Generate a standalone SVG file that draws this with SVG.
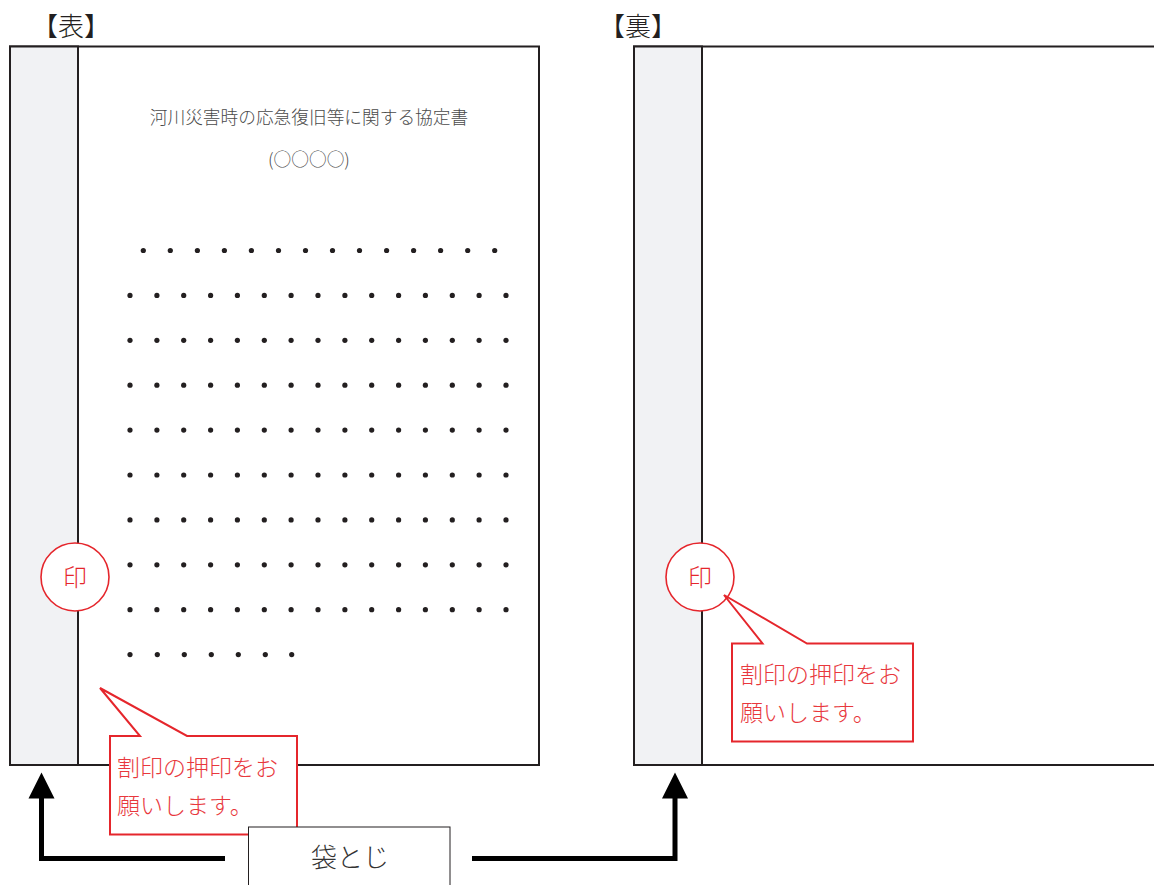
<svg xmlns="http://www.w3.org/2000/svg" width="1154" height="885" viewBox="0 0 1154 885">
<defs>
<style>
.page{fill:#fff;stroke:#231f20;stroke-width:2}
.strip{fill:#f1f2f4;stroke:#231f20;stroke-width:2}
.seal{fill:#fff;stroke:#e5262c;stroke-width:1.6}
.sealt{font-family:"Noto Sans CJK JP","Noto Sans",sans-serif;font-size:24px;fill:#e5262c;text-anchor:middle;font-weight:300}
.call{fill:#fff;stroke:#e5262c;stroke-width:2;stroke-linejoin:miter}
.callt{font-family:"Noto Sans CJK JP","Noto Sans",sans-serif;font-size:23px;fill:#e8383d;font-weight:300}
.head{font-family:"Noto Sans CJK JP","Noto Sans",sans-serif;font-size:26px;fill:#231f20;text-anchor:middle;font-weight:300}
.title{font-family:"Noto Sans CJK JP","Noto Sans",sans-serif;font-size:17.7px;fill:#4a4a4a;text-anchor:middle;font-weight:300}
.dot{fill:#231f20}
.arrow{fill:none;stroke:#000;stroke-width:5}
.ahead{fill:#000}
.label{fill:#fff;stroke:#231f20;stroke-width:1}
.labelt{font-family:"Noto Sans CJK JP","Noto Sans",sans-serif;font-size:26px;fill:#333;text-anchor:middle;font-weight:300}
</style>
<g id="dotrow15">
<circle class="dot" cx="130" cy="0" r="2.6"/><circle class="dot" cx="156.9" cy="0" r="2.6"/><circle class="dot" cx="183.7" cy="0" r="2.6"/><circle class="dot" cx="210.6" cy="0" r="2.6"/><circle class="dot" cx="237.4" cy="0" r="2.6"/><circle class="dot" cx="264.3" cy="0" r="2.6"/><circle class="dot" cx="291.1" cy="0" r="2.6"/><circle class="dot" cx="318" cy="0" r="2.6"/><circle class="dot" cx="344.9" cy="0" r="2.6"/><circle class="dot" cx="371.7" cy="0" r="2.6"/><circle class="dot" cx="398.6" cy="0" r="2.6"/><circle class="dot" cx="425.4" cy="0" r="2.6"/><circle class="dot" cx="452.3" cy="0" r="2.6"/><circle class="dot" cx="479.1" cy="0" r="2.6"/><circle class="dot" cx="506" cy="0" r="2.6"/>
</g>
</defs>
<rect width="1154" height="885" fill="#fff"/>

<g id="front-page">
<text class="head" x="71" y="36">【表】</text>
<rect class="page" x="10" y="46.5" width="529" height="718.5"/>
<rect class="strip" x="10" y="46.5" width="68" height="718.5"/>
<text class="title" x="309" y="124">河川災害時の応急復旧等に関する協定書</text>
<text class="title" x="309" y="166">(○○○○)</text>
</g>

<g id="front-text-dots">
<circle class="dot" cx="143.3" cy="250.5" r="2.6"/><circle class="dot" cx="170.3" cy="250.5" r="2.6"/><circle class="dot" cx="197.4" cy="250.5" r="2.6"/><circle class="dot" cx="224.4" cy="250.5" r="2.6"/><circle class="dot" cx="251.4" cy="250.5" r="2.6"/><circle class="dot" cx="278.5" cy="250.5" r="2.6"/><circle class="dot" cx="305.5" cy="250.5" r="2.6"/><circle class="dot" cx="332.5" cy="250.5" r="2.6"/><circle class="dot" cx="359.5" cy="250.5" r="2.6"/><circle class="dot" cx="386.6" cy="250.5" r="2.6"/><circle class="dot" cx="413.6" cy="250.5" r="2.6"/><circle class="dot" cx="440.6" cy="250.5" r="2.6"/><circle class="dot" cx="467.7" cy="250.5" r="2.6"/><circle class="dot" cx="494.7" cy="250.5" r="2.6"/>
<use href="#dotrow15" y="295.4"/>
<use href="#dotrow15" y="340.3"/>
<use href="#dotrow15" y="385.2"/>
<use href="#dotrow15" y="430.1"/>
<use href="#dotrow15" y="475"/>
<use href="#dotrow15" y="519.9"/>
<use href="#dotrow15" y="564.8"/>
<use href="#dotrow15" y="609.7"/>
<circle class="dot" cx="130" cy="654.6" r="2.6"/><circle class="dot" cx="157.3" cy="654.6" r="2.6"/><circle class="dot" cx="184.3" cy="654.6" r="2.6"/><circle class="dot" cx="211.3" cy="654.6" r="2.6"/><circle class="dot" cx="238.3" cy="654.6" r="2.6"/><circle class="dot" cx="265.3" cy="654.6" r="2.6"/><circle class="dot" cx="291.7" cy="654.6" r="2.6"/>
</g>

<g id="front-seal">
<circle class="seal" cx="75" cy="577" r="34"/>
<text class="sealt" x="75" y="586">印</text>
</g>

<g id="back-page">
<text class="head" x="638" y="36">【裏】</text>
<rect class="page" x="634" y="46.5" width="540" height="718.5"/>
<rect class="strip" x="634" y="46.5" width="68" height="718.5"/>
</g>

<g id="back-seal">
<circle class="seal" cx="700" cy="577" r="34"/>
<text class="sealt" x="700" y="586">印</text>
</g>

<g id="front-callout">
<path class="call" d="M110,736 H140 L100,688 L187,736 H297 V834.5 H110 Z"/>
<text class="callt" x="117" y="776">割印の押印をお</text>
<text class="callt" x="117" y="814">願いします。</text>
</g>

<g id="back-callout">
<path class="call" d="M732,643.5 H762.5 L724,595 L807,643.5 H913 V741.5 H732 Z"/>
<text class="callt" x="740" y="683">割印の押印をお</text>
<text class="callt" x="740" y="721">願いします。</text>
</g>

<g id="connectors">
<polyline class="arrow" points="225,858.5 41.5,858.5 41.5,795"/>
<polygon class="ahead" points="41.5,772.5 28.5,798.5 54.5,798.5"/>
<polyline class="arrow" points="472,858.5 675,858.5 675,795"/>
<polygon class="ahead" points="675,772.5 662,798.5 688,798.5"/>
</g>

<g id="fukurotoji">
<rect class="label" x="248.5" y="827" width="201.5" height="70"/>
<text class="labelt" x="350" y="867">袋とじ</text>
</g>
</svg>
